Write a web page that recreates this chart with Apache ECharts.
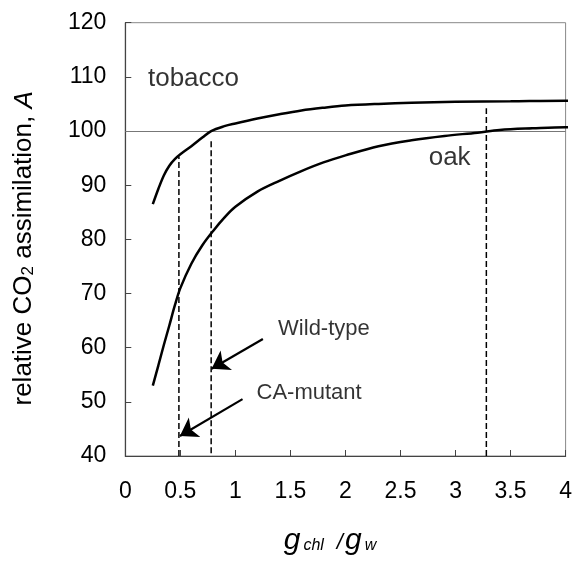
<!DOCTYPE html>
<html>
<head>
<meta charset="utf-8">
<script src="https://cdn.jsdelivr.net/npm/echarts@6/dist/echarts.min.js"></script>
<style>html,body{margin:0;padding:0;background:#fff;}#c{width:575px;height:561px;}</style>
</head>
<body>
<div id="c"></div>
<script>
const tobaccoX = [0.25,0.3,0.35,0.4,0.45,0.5,0.6,0.7,0.78,0.9,1.0,1.2,1.4,1.6,1.8,2.0,2.3,2.6,3.0,3.5,4.0,4.06];
const tobaccoY = [86.5,89.3,91.8,93.6,94.8,95.7,97.2,98.8,100,100.9,101.4,102.3,103.1,103.8,104.3,104.7,105.0,105.2,105.4,105.5,105.6,105.6];
const oakX = [0.25,0.3,0.35,0.4,0.45,0.5,0.6,0.7,0.8,0.9,1.0,1.2,1.4,1.6,1.8,2.0,2.3,2.6,2.9,3.2,3.4,3.7,4.0,4.06];
const oakY = [53,56.7,60.5,64.1,67.8,71,75.5,78.9,81.6,84,86,88.8,90.8,92.6,94.2,95.5,97.2,98.3,99.1,99.7,100.2,100.5,100.7,100.7];
const dropX = [0.487, 0.78, 3.28];
const dropBottom = [40, 40.5, 40];
const dropTop = [95.3, 98.4, 104.2];
const arrowFrom = [[1.25, 61.6], [1.065, 50.5]];
const arrowTo = [[0.784, 56.1], [0.496, 43.7]];
const labelNames = ['tobacco', 'oak', 'Wild-type', 'CA-mutant'];
const labelX = [0.206, 2.756, 1.388, 1.192];
const labelY = [109.6, 95.1, 63.4, 51.7];
const xTicks = ['0','0.5','1','1.5','2','2.5','3','3.5','4'];
const refLine = 100;

const FONT = 'Liberation Sans, Arial, sans-serif';
const chart = echarts.init(document.getElementById('c'));

const series = [];
series.push({
  type: 'line', data: tobaccoX.map((x, i) => [x, tobaccoY[i]]),
  smooth: 0.35, symbol: 'none', clip: false,
  lineStyle: { color: '#000', width: 2.5 }, z: 5,
  markLine: {
    silent: true, symbol: ['none', 'none'], label: { show: false },
    lineStyle: { color: '#777', width: 1, type: 'solid' },
    data: [{ yAxis: refLine }]
  }
});
series.push({
  type: 'line', data: oakX.map((x, i) => [x, oakY[i]]),
  smooth: 0.35, symbol: 'none', clip: false,
  lineStyle: { color: '#000', width: 2.5 }, z: 5
});
dropX.forEach((x, i) => {
  series.push({
    type: 'line', data: [[x, dropBottom[i]], [x, dropTop[i]]],
    symbol: 'none', lineStyle: { color: '#000', width: 1.5, type: [6, 3] }, z: 4
  });
});
series.push({
  type: 'lines', coordinateSystem: 'cartesian2d',
  symbol: ['none', 'arrow'], symbolSize: [13, 17],
  lineStyle: { color: '#000', width: 2.2, opacity: 1 },
  data: arrowFrom.map((p, i) => ({ coords: [p, arrowTo[i]] })), z: 6
});
series.push({
  type: 'scatter', symbolSize: 0, silent: true,
  data: labelNames.map((n, i) => ({
    name: n, value: [labelX[i], labelY[i]],
    label: { fontSize: i < 2 ? 26 : 22 }
  })),
  label: {
    show: true, position: 'right', distance: 0, formatter: '{b}',
    color: '#000', fontFamily: FONT
  }, z: 7
});

chart.setOption({
  animation: false,
  backgroundColor: '#fff',
  grid: { left: 125.3, right: 9, top: 22.7, bottom: 105, show: true, borderColor: '#888', borderWidth: 1 },
  xAxis: {
    type: 'value', min: 0, max: 4, interval: 0.5,
    axisLine: { show: true, lineStyle: { color: '#444', width: 1.2 } },
    axisTick: { show: true, inside: true, length: 6, lineStyle: { color: '#444' } },
    splitLine: { show: false },
    axisLabel: { color: '#000', fontSize: 23, fontFamily: FONT, margin: 24,
      formatter: (v) => xTicks[Math.round(v * 2)] },
    name: '{g|g}{s|chl}{sl|/}{g2|g}{s|w}',
    nameLocation: 'middle', nameGap: 70,
    nameTextStyle: {
      padding: [0, 31, 0, 0],
      rich: {
        g: { fontSize: 30, fontStyle: 'italic', fontFamily: FONT, color: '#000', lineHeight: 30, verticalAlign: 'bottom' },
        g2: { fontSize: 30, fontStyle: 'italic', fontFamily: FONT, color: '#000', lineHeight: 30, verticalAlign: 'bottom', padding: [0, 0, 0, 2] },
        s: { fontSize: 16, fontStyle: 'italic', fontFamily: FONT, color: '#000', lineHeight: 16, verticalAlign: 'bottom', padding: [0, 0, 2, 3] },
        sl: { fontSize: 22, fontStyle: 'italic', fontFamily: FONT, color: '#000', lineHeight: 22, verticalAlign: 'bottom', padding: [0, 0, 2, 13] }
      }
    }
  },
  yAxis: {
    type: 'value', min: 40, max: 120, interval: 10,
    axisLine: { show: true, lineStyle: { color: '#444', width: 1.2 } },
    axisTick: { show: true, inside: true, length: 6, lineStyle: { color: '#444' } },
    splitLine: { show: false },
    axisLabel: { color: '#000', fontSize: 23, fontFamily: FONT, margin: 19 },
    name: 'relative CO{sub|2} assimilation, {i|A}',
    nameLocation: 'middle', nameGap: 88,
    nameTextStyle: {
      color: '#000', fontSize: 26, fontFamily: FONT, lineHeight: 26,
      padding: [0, 18, 0, 0],
      rich: {
        sub: { fontSize: 17, fontFamily: FONT, color: '#000', lineHeight: 17, verticalAlign: 'bottom' },
        i: { fontSize: 26, fontStyle: 'italic', fontFamily: FONT, color: '#000', lineHeight: 26 }
      }
    }
  },
  series: series
});
</script>
</body>
</html>
